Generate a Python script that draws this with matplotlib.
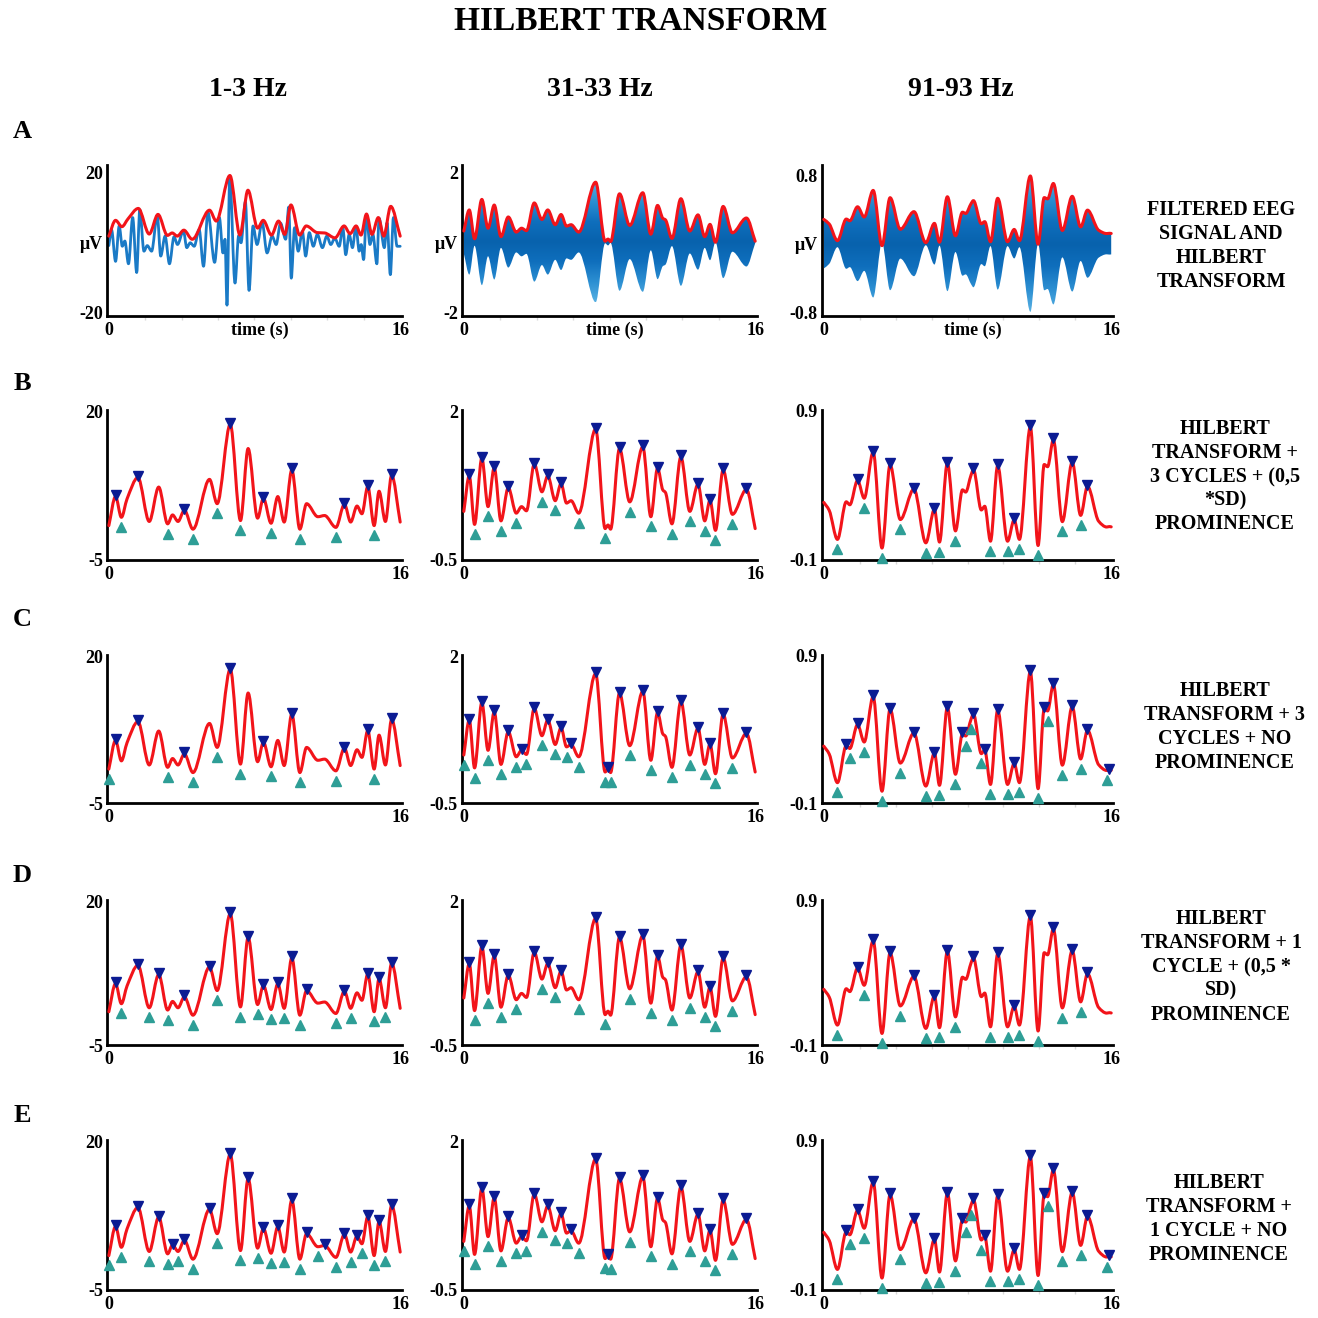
import numpy as np
import matplotlib
matplotlib.use('Agg')
import matplotlib.pyplot as plt
from matplotlib.path import Path
from matplotlib.patches import PathPatch
from matplotlib.transforms import ScaledTranslation
from matplotlib.colors import LinearSegmentedColormap

plt.rcParams['font.family'] = ['Liberation Serif', 'DejaVu Serif']
plt.rcParams['font.weight'] = 'bold'

# ---- data -------------------------------------------------------------
bands = ['1-3 Hz', '31-33 Hz', '91-93 Hz']
row_letters = ['A', 'B', 'C', 'D', 'E']
row_notes = [
    'FILTERED EEG\nSIGNAL AND\nHILBERT\nTRANSFORM',
    'HILBERT\nTRANSFORM +\n3 CYCLES + (0,5\n*SD)\nPROMINENCE',
    'HILBERT\nTRANSFORM + 3\nCYCLES + NO\nPROMINENCE',
    'HILBERT\nTRANSFORM + 1\nCYCLE + (0,5 *\nSD)\nPROMINENCE',
    'HILBERT\nTRANSFORM +\n1 CYCLE + NO\nPROMINENCE',
]

# envelope turning points (s, uV), 1-3 Hz
env1_t = [0.0, 0.37, 0.69, 1.0, 1.6, 2.22, 2.74, 3.23, 3.5, 3.8, 4.15, 4.62, 5.53, 5.95,
          6.67, 7.23, 7.65, 8.17, 8.49, 8.91, 9.28, 9.63, 10.05, 10.49, 10.86, 11.48,
          11.85, 12.47, 12.94, 13.28, 13.63, 13.9, 14.22, 14.57, 14.84, 15.19, 15.53, 16.0]
env1_v = [0.8, 5.7, 2.2, 5.3, 8.9, 1.5, 7.3, 1.1, 2.6, 1.5, 3.4, 0.2, 8.6, 4.5,
          17.9, 1.65, 13.8, 2.06, 5.4, 1.2, 5.7, 1.4, 10.2, 0.2, 4.5, 2.3,
          2.5, 0.5, 4.4, 1.4, 4.1, 2.8, 7.4, 0.8, 6.6, 1.5, 9.3, 1.4]

# envelope of the filtered 1-3 Hz trace in panel A
env1a_t = [0.0, 0.37, 0.72, 1.05, 1.62, 2.22, 2.70, 3.22, 3.48, 3.76, 4.12, 4.58, 5.53,
           5.90, 6.65, 7.20, 7.64, 8.17, 8.48, 8.93, 9.32, 9.66, 10.0, 10.48, 10.84,
           11.45, 11.85, 12.42, 12.92, 13.25, 13.58, 13.85, 14.15, 14.45, 14.80, 15.10,
           15.48, 16.0]
env1a_v = [1.7, 6.2, 4.4, 6.6, 9.6, 2.3, 7.9, 1.9, 2.6, 1.7, 3.4, 0.8, 9.1,
           6.0, 19.0, 2.0, 14.8, 4.0, 6.2, 2.0, 6.0, 2.2, 10.6, 2.0, 4.6,
           2.7, 2.6, 1.2, 4.6, 2.4, 4.6, 2.0, 8.0, 2.2, 7.0, 1.7,
           10.2, 1.7]

# filtered 1-3 Hz EEG, turning points
eeg1_t = [0.0, 0.15, 0.37, 0.57, 0.74, 0.88, 1.08, 1.31, 1.53, 1.70, 1.93, 2.11, 2.35,
          2.66, 2.85, 3.09, 3.33, 3.58, 3.77, 4.10, 4.28, 4.47, 4.69, 4.96, 5.20, 5.44,
          5.81, 6.07, 6.27, 6.38, 6.49, 6.64, 6.93, 7.13, 7.26, 7.50, 7.70, 7.92, 8.14,
          8.42, 8.69, 8.97, 9.19, 9.43, 9.71, 9.88, 10.02, 10.20, 10.40, 10.63, 10.81,
          11.01, 11.23, 11.45, 11.73, 11.97, 12.19, 12.41, 12.65, 12.85, 13.01, 13.20,
          13.38, 13.57, 13.75, 13.86, 13.99, 14.15, 14.34, 14.50, 14.72, 14.84, 15.13,
          15.28, 15.46, 15.63, 15.83, 16.0]
eeg1_v = [-1.0, 3.5, -5.5, 4.6, -1.2, 0.3, -6.2, 7.0, -8.7, 9.2, -2.6, -1.0, -2.6,
          7.6, -4.0, 1.7, -6.2, 1.5, -0.7, 3.2, -1.6, -0.2, -1.2, 3.6, -6.9, 8.6,
          -5.8, 7.0, -3.1, 0.8, -18.0, 18.6, -11.7, 1.8, -0.2, 11.5, -13.8, 4.6, -0.7,
          5.6, -3.1, 1.7, -0.7, 5.4, 0.8, 10.0, -10.3, 4.1, -2.6, 3.0, -4.0,
          2.7, -1.2, 2.2, -1.6, 1.7, -0.7, 1.1, -1.2, 4.1, -3.6, 2.2,
          -1.6, 4.5, -2.6, -0.7, -5.0, 7.7, -0.7, 2.2, -6.2, 6.8, -1.6,
          5.5, -9.3, 7.0, -1.2, -1.2]

# envelope turning points, 31-33 Hz
env2_t = [0.0, 0.30, 0.59, 0.99, 1.33, 1.67, 2.04, 2.44, 2.88, 3.17, 3.44, 3.87, 4.29,
          4.61, 5.02, 5.34, 5.64, 5.89, 6.31, 7.24, 7.76, 7.92, 8.06, 8.55, 9.11, 9.83,
          10.27, 10.64, 10.93, 11.07, 11.43, 11.92, 12.41, 12.86, 13.23, 13.52, 13.82,
          14.24, 14.75, 15.52, 16.0]
env2_v = [0.32, 0.92, 0.10, 1.22, 0.40, 1.06, 0.16, 0.72, 0.29, 0.40, 0.33, 1.12, 0.65,
          0.92, 0.50, 0.79, 0.46, 0.50, 0.29, 1.71, 0.03, 0.09, 0.02, 1.38, 0.48, 1.41,
          0.23, 1.05, 0.68, 0.64, 0.11, 1.24, 0.32, 0.78, 0.16, 0.51, 0.0,
          1.02, 0.27, 0.69, 0.03]

# envelope turning points, 91-93 Hz
env3_t = [0.0, 0.3, 0.76, 1.25, 1.45, 1.88, 2.25, 2.75, 3.24, 3.69, 4.26, 5.02, 5.68,
          6.16, 6.44, 6.88, 7.33, 7.72, 7.9, 8.2, 8.33, 8.77, 8.96, 9.28, 9.68, 10.23,
          10.6, 10.89, 11.5, 11.93, 12.27, 12.46, 12.78, 13.28, 13.83, 14.3, 14.68,
          15.3, 15.75, 15.9, 16.0]
env3_v = [0.286, 0.233, 0.038, 0.29, 0.27, 0.433, 0.314, 0.624, -0.02, 0.539, 0.171,
          0.376, 0.015, 0.24, 0.02, 0.55, 0.095, 0.37, 0.355, 0.47, 0.505, 0.235, 0.26,
          0.026, 0.532, 0.026, 0.169, 0.038, 0.792, -0.003, 0.54, 0.525, 0.705, 0.157,
          0.555, 0.199, 0.394, 0.16, 0.121, 0.124, 0.122]

# detected peaks / troughs (s) for rows B-E
peaks1_b = [0.37, 1.6, 4.15, 6.67, 8.49, 10.05, 12.94, 14.22, 15.53]
troughs1_b = [0.69, 3.23, 4.62, 5.95, 7.23, 8.91, 10.49, 12.47, 14.57]
peaks1_c = [0.37, 1.6, 4.15, 6.67, 8.49, 10.05, 12.94, 14.22, 15.53]
troughs1_c = [0.0, 3.23, 4.62, 5.95, 7.23, 8.91, 10.49, 12.47, 14.57]
peaks1_d = [0.37, 1.6, 2.74, 4.15, 5.53, 6.67, 7.65, 8.49, 9.28, 10.05, 10.86, 12.94,
            14.22, 14.84, 15.53]
troughs1_d = [0.69, 2.22, 3.23, 4.62, 5.95, 7.23, 8.17, 8.91, 9.63, 10.49, 12.47, 13.28,
              14.57, 15.19]
peaks1_e = [0.37, 1.6, 2.74, 3.5, 4.15, 5.53, 6.67, 7.65, 8.49, 9.28, 10.05, 10.86, 11.85,
            12.94, 13.63, 14.22, 14.84, 15.53]
troughs1_e = [0.0, 0.69, 2.22, 3.23, 3.8, 4.62, 5.95, 7.23, 8.17, 8.91, 9.63, 10.49, 11.48,
              12.47, 13.28, 13.9, 14.57, 15.19]

peaks2_b = [0.30, 0.99, 1.67, 2.44, 3.87, 4.61, 5.34, 7.24, 8.55, 9.83, 10.64, 11.92,
            12.86, 13.52, 14.24, 15.52]
troughs2_b = [0.59, 1.33, 2.04, 2.88, 4.29, 5.02, 6.31, 7.76, 9.11, 10.27, 11.43, 12.41,
              13.23, 13.82, 14.75]
peaks2_c = [0.30, 0.99, 1.67, 2.44, 3.17, 3.87, 4.61, 5.34, 5.89, 7.24, 7.92, 8.55, 9.83,
            10.64, 11.92, 12.86, 13.52, 14.24, 15.52]
troughs2_c = [0.0, 0.59, 1.33, 2.04, 2.88, 3.44, 4.29, 5.02, 5.64, 6.31, 7.76, 8.06, 9.11,
              10.27, 11.43, 12.41, 13.23, 13.82, 14.75]

peaks3_b = [1.88, 2.75, 3.69, 5.02, 6.16, 6.88, 8.33, 9.68, 10.6, 11.5, 12.78, 13.83, 14.68]
troughs3_b = [0.76, 2.25, 3.24, 4.26, 5.68, 6.44, 7.33, 9.28, 10.23, 10.89, 11.93, 13.28,
              14.3]
peaks3_c = [1.25, 1.88, 2.75, 3.69, 5.02, 6.16, 6.88, 7.72, 8.33, 8.96, 9.68, 10.6, 11.5,
            12.27, 12.78, 13.83, 14.68, 15.9]
troughs3_c = [0.76, 1.45, 2.25, 3.24, 4.26, 5.68, 6.44, 7.33, 7.9, 8.2, 8.77, 9.28, 10.23,
              10.89, 11.93, 12.46, 13.28, 14.3, 15.75]

# axis ranges and tick labels
ylim_a = [(-21.1, 22.0), (-2.1, 2.2), (-0.84, 0.92)]
yticks_a = [(-20, 20), (-2, 2), (-0.8, 0.8)]
ylabels_a = [('-20', '20'), ('-2', '2'), ('-0.8', '0.8')]
ylim_env = [(-5, 20.3), (-0.5, 2.03), (-0.1, 0.905)]
ylabels_env = [('-5', '20'), ('-0.5', '2'), ('-0.1', '0.9')]

RED = '#f2141a'
BLUE = '#1a7ac6'
NAVY = '#0b1b93'
TEAL = '#2e9e96'
band_cmap = LinearSegmentedColormap.from_list('band', ['#0862ad', '#0f6fbd', '#2c8fd2', '#57b0e2'])


def smooth_path(t, v):
    """Cubic Bezier path through turning points, flat at local extrema."""
    t = np.asarray(t, float)
    v = np.asarray(v, float)
    dt = np.diff(t)
    s = np.diff(v) / dt
    m = np.zeros_like(v)
    m[0], m[-1] = s[0], s[-1]
    for i in range(1, len(v) - 1):
        if s[i - 1] * s[i] > 0:
            m[i] = 2.0 / (1.0 / s[i - 1] + 1.0 / s[i])
    verts = [(t[0], v[0])]
    codes = [Path.MOVETO]
    for i in range(len(dt)):
        h = dt[i] / 3.0
        verts += [(t[i] + h, v[i] + m[i] * h),
                  (t[i + 1] - h, v[i + 1] - m[i + 1] * h),
                  (t[i + 1], v[i + 1])]
        codes += [Path.CURVE4] * 3
    return verts, codes


def draw_line(ax, t, v, color, lw, z=3):
    verts, codes = smooth_path(t, v)
    ax.add_patch(PathPatch(Path(verts, codes), facecolor='none', edgecolor=color,
                           lw=lw, capstyle='round', joinstyle='round', zorder=z))


def draw_band(ax, t, v):
    # oscillation filling the space between +envelope and -envelope
    top_v, top_c = smooth_path(t, v)
    bot_v, bot_c = smooth_path(t[::-1], [-x for x in v[::-1]])
    bot_c[0] = Path.LINETO
    verts = top_v + bot_v + [top_v[0]]
    codes = top_c + bot_c + [Path.CLOSEPOLY]
    patch = PathPatch(Path(verts, codes), facecolor='none', edgecolor='none')
    ax.add_patch(patch)
    vmax = max(v)
    shade = np.abs(np.linspace(-1, 1, 400))[:, None]
    im = ax.imshow(shade, extent=[0, 16, -vmax, vmax], origin='lower', aspect='auto',
                   cmap=band_cmap, vmin=0, vmax=1, zorder=2, interpolation='bilinear')
    im.set_clip_path(patch)


def style_axes(ax, xlabel_mid=None):
    for side in ('top', 'right'):
        ax.spines[side].set_visible(False)
    for side in ('left', 'bottom'):
        ax.spines[side].set_linewidth(2.0)
        ax.spines[side].set_color('black')
    if xlabel_mid:
        ax.set_xticks([0, 8.3, 16], ['0', xlabel_mid, '16'])
    else:
        ax.set_xticks([0, 16], ['0', '16'])
    ax.tick_params(length=0, labelsize=13, pad=4)
    ax.tick_params(axis='y', pad=3)
    ax.set_xticks(np.arange(2, 16, 2), minor=True)
    ax.tick_params(which='minor', length=3, width=1, color='#d8d8d8')
    ax.patch.set_alpha(0)


fig = plt.figure(figsize=(13.18, 13.18), dpi=100)
W = H = 1318.0


def rect(left, right, top, bottom):
    return [left / W, 1 - bottom / H, (right - left) / W, (bottom - top) / H]


col_left = [107, 462, 822]
col_right = [402, 757, 1113]
row_top = [165, 410, 655, 900, 1140]
row_bottom = [316, 560, 803, 1045, 1290]

envelopes = [(env1_t, env1_v), (env2_t, env2_v), (env3_t, env3_v)]
marks = [
    [(peaks1_b, troughs1_b), (peaks1_c, troughs1_c), (peaks1_d, troughs1_d), (peaks1_e, troughs1_e)],
    [(peaks2_b, troughs2_b), (peaks2_c, troughs2_c), (peaks2_b, troughs2_b), (peaks2_c, troughs2_c)],
    [(peaks3_b, troughs3_b), (peaks3_c, troughs3_c), (peaks3_b, troughs3_b), (peaks3_c, troughs3_c)],
]

# row A: filtered signal with its Hilbert envelope
for c in range(3):
    ax = fig.add_axes(rect(col_left[c], col_right[c], row_top[0], row_bottom[0]))
    style_axes(ax, 'time (s)')
    if c == 0:
        draw_line(ax, eeg1_t, eeg1_v, BLUE, 2.0, z=2)
        draw_line(ax, env1a_t, env1a_v, RED, 2.2)
    else:
        et, ev = envelopes[c]
        draw_band(ax, et, ev)
        draw_line(ax, et, ev, RED, 2.2)
    ax.set_xlim(-0.1, 16.1)
    ax.set_ylim(*ylim_a[c])
    lo, hi = yticks_a[c]
    ax.set_yticks([lo, 0, hi], [ylabels_a[c][0], 'μV', ylabels_a[c][1]])

# rows B-E: envelope with detected peaks and troughs
for r in range(4):
    for c in range(3):
        ax = fig.add_axes(rect(col_left[c], col_right[c], row_top[r + 1], row_bottom[r + 1]))
        style_axes(ax)
        ax.set_xlim(-0.1, 16.1)
        ax.set_ylim(*ylim_env[c])
        lo, hi = ylim_env[c][0], float(ylabels_env[c][1])
        ax.set_yticks([lo, hi], list(ylabels_env[c]))
        if c < 2:
            ax.tick_params(which='minor', length=0)
        et, ev = envelopes[c]
        draw_line(ax, et, ev, RED, 2.2)
        pk, tr = marks[c][r]
        up = ax.transData + ScaledTranslation(0, 1 / 72, fig.dpi_scale_trans)
        down = ax.transData + ScaledTranslation(0, -7 / 72, fig.dpi_scale_trans)
        ax.plot(pk, np.interp(pk, et, ev), 'v', color=NAVY, ms=7.5, mec=NAVY,
                transform=up, clip_on=False, zorder=4)
        ax.plot(tr, np.interp(tr, et, ev), '^', color=TEAL, ms=7.5, mec=TEAL,
                transform=down, clip_on=False, zorder=4)

# titles and labels
fig.text(641 / W, 1 - 22 / H, 'HILBERT TRANSFORM', ha='center', va='center',
         fontsize=24, fontweight='bold')
for x, name in zip([248, 600, 961], bands):
    fig.text(x / W, 1 - 90 / H, name, ha='center', va='center', fontsize=20,
             fontweight='bold')
for y, letter in zip([131, 383, 620, 875, 1116], row_letters):
    fig.text(22 / W, 1 - y / H, letter, ha='center', va='center', fontsize=19,
             fontweight='bold')
for (x, y), note in zip([(1221, 246), (1225, 477), (1225, 727), (1221, 967), (1219, 1219)],
                        row_notes):
    fig.text(x / W, 1 - y / H, note, ha='center', va='center', fontsize=14.5,
             fontweight='bold', linespacing=1.25, multialignment='center')

fig.savefig('out.png', dpi=100)
